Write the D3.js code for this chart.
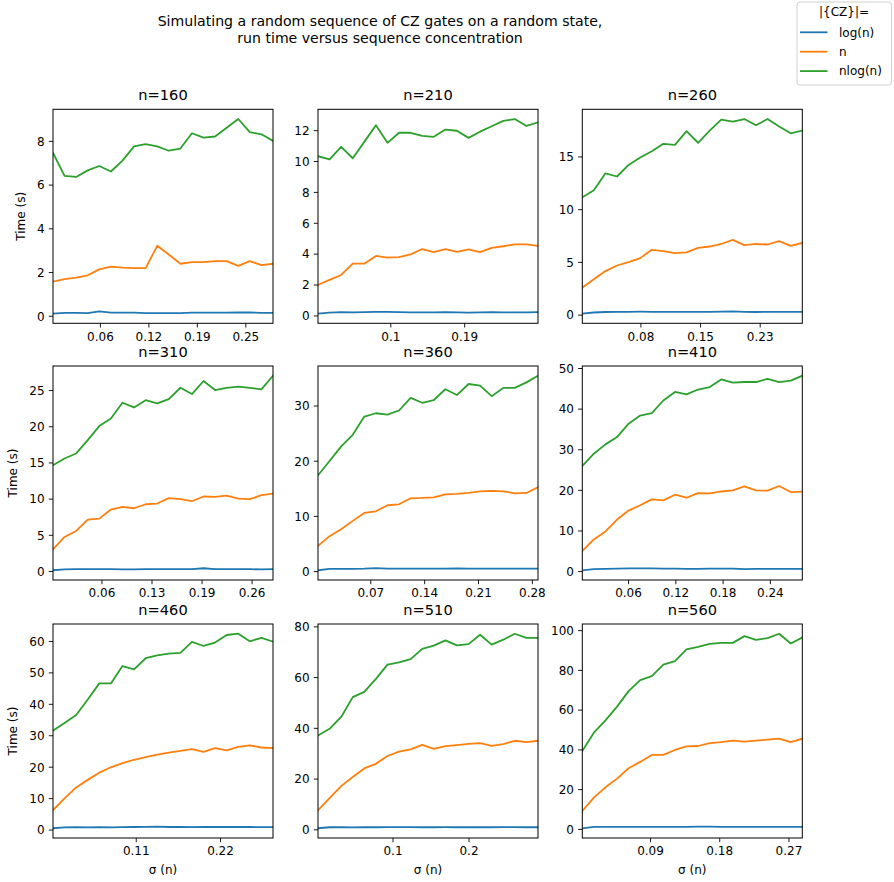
<!DOCTYPE html>
<html>
<head>
<meta charset="utf-8">
<script src="https://cdn.jsdelivr.net/npm/d3@7"></script>
<style>
  html, body { margin: 0; padding: 0; background: #fff; }
  svg { display: block; }
  text { font-family: "DejaVu Sans", sans-serif; fill: #000; }
</style>
</head>
<body>
<div id="chart"></div>
<script>
// ---------------- data ----------------
const panelN = [160, 210, 260, 310, 360, 410, 460, 510, 560];

// sequence concentration sigma (x), shared grid of 20 points
const sigma = [0.002, 0.0169, 0.0319, 0.0468, 0.0617, 0.0767, 0.0916, 0.1065, 0.1215, 0.1364,
               0.1513, 0.1663, 0.1812, 0.1961, 0.2110, 0.2260, 0.2409, 0.2558, 0.2708, 0.2857];

const seriesNames = ["log(n)", "n", "nlog(n)"];
const seriesColors = ["#1f77b4", "#ff7f0e", "#2ca02c"];

// run times (s) for |{CZ}| = log(n)
const timeLog = [
  [0.10,0.13,0.13,0.12,0.20,0.14,0.14,0.14,0.12,0.12,0.12,0.12,0.14,0.14,0.14,0.14,0.15,0.15,0.13,0.13],
  [0.12,0.18,0.21,0.20,0.22,0.23,0.23,0.21,0.20,0.20,0.20,0.21,0.20,0.18,0.20,0.21,0.20,0.20,0.20,0.21],
  [0.10,0.20,0.25,0.27,0.27,0.28,0.27,0.27,0.27,0.26,0.26,0.26,0.28,0.30,0.27,0.25,0.26,0.26,0.27,0.27],
  [0.10,0.22,0.25,0.25,0.25,0.25,0.22,0.23,0.25,0.25,0.25,0.25,0.25,0.38,0.25,0.25,0.25,0.25,0.22,0.27],
  [0.15,0.40,0.40,0.40,0.45,0.55,0.45,0.45,0.45,0.45,0.45,0.45,0.50,0.45,0.45,0.45,0.45,0.45,0.45,0.45],
  [0.20,0.50,0.55,0.60,0.65,0.65,0.65,0.60,0.60,0.55,0.55,0.60,0.60,0.60,0.50,0.55,0.55,0.55,0.55,0.55],
  [0.40,0.70,0.75,0.70,0.75,0.70,0.75,0.80,0.85,0.95,0.80,0.80,0.75,0.80,0.80,0.80,0.80,0.80,0.75,0.75],
  [0.40,0.80,0.80,0.75,0.80,0.80,0.85,0.85,0.85,0.80,0.80,0.85,0.80,0.80,0.80,0.80,0.85,0.85,0.80,0.80],
  [0.30,1.00,1.00,1.00,1.00,1.00,1.00,1.00,1.00,1.00,1.10,1.10,1.00,1.00,1.00,1.00,1.00,1.00,1.00,1.00]
];
// run times (s) for |{CZ}| = n
const timeN = [
  [1.56,1.68,1.74,1.85,2.12,2.25,2.20,2.18,2.18,3.20,2.80,2.38,2.45,2.45,2.50,2.50,2.28,2.50,2.32,2.38],
  [1.98,2.30,2.62,3.35,3.35,3.85,3.75,3.78,3.95,4.30,4.10,4.30,4.12,4.28,4.10,4.38,4.48,4.60,4.60,4.50],
  [2.55,3.35,4.13,4.66,4.98,5.36,6.15,6.02,5.83,5.90,6.33,6.46,6.70,7.09,6.59,6.70,6.65,6.97,6.52,6.80],
  [3.00,4.70,5.53,7.10,7.24,8.49,8.86,8.67,9.22,9.32,10.06,9.92,9.64,10.29,10.24,10.42,10.01,9.92,10.47,10.70],
  [4.58,6.33,7.60,9.10,10.54,10.84,11.93,12.10,13.19,13.25,13.37,13.90,13.98,14.16,14.46,14.52,14.46,14.10,14.16,15.18],
  [4.93,7.80,9.77,12.70,14.90,16.20,17.65,17.40,18.80,18.06,19.20,19.13,19.60,19.87,20.85,19.87,19.79,20.94,19.46,19.54],
  [6.18,9.90,13.40,15.80,18.10,19.80,21.10,22.20,23.00,23.80,24.50,25.05,25.60,24.70,25.90,25.20,26.30,26.80,26.10,25.90],
  [7.50,12.30,17.00,20.60,24.00,25.80,28.90,30.60,31.50,33.30,31.70,32.80,33.20,33.70,34.00,32.90,33.60,34.90,34.40,34.90],
  [9.00,15.70,20.90,25.30,30.50,33.70,37.20,37.20,39.70,41.50,41.70,43.20,43.70,44.40,43.90,44.40,44.90,45.40,43.60,45.40]
];
// run times (s) for |{CZ}| = n log(n)
const timeNLog = [
  [7.45,6.40,6.35,6.65,6.85,6.60,7.10,7.75,7.85,7.75,7.55,7.65,8.35,8.15,8.20,8.60,9.00,8.40,8.30,8.00],
  [10.31,10.10,10.92,10.18,11.24,12.32,11.18,11.83,11.83,11.63,11.57,12.04,11.96,11.50,11.90,12.25,12.60,12.72,12.27,12.50],
  [11.12,11.80,13.40,13.10,14.20,14.90,15.50,16.20,16.10,17.40,16.30,17.45,18.50,18.30,18.55,17.96,18.55,17.85,17.20,17.46],
  [14.62,15.54,16.24,18.08,20.02,21.08,23.25,22.60,23.60,23.15,23.75,25.32,24.45,26.25,25.00,25.30,25.46,25.30,25.10,26.98],
  [17.35,19.94,22.60,24.70,28.00,28.60,28.37,29.10,31.40,30.50,31.00,32.95,31.90,33.90,33.60,31.70,33.20,33.20,34.20,35.40],
  [25.86,28.90,31.20,33.00,36.30,38.30,38.90,42.00,44.10,43.50,44.70,45.30,47.20,46.40,46.55,46.55,47.30,46.55,46.90,48.10],
  [31.45,33.90,36.46,41.36,46.50,46.50,52.00,50.96,54.50,55.40,55.97,56.20,59.70,58.40,59.50,61.90,62.30,59.90,61.00,59.80],
  [36.98,39.60,44.30,52.10,54.20,59.30,64.90,65.80,67.10,71.10,72.40,74.50,72.50,73.00,76.70,72.80,74.75,77.10,75.50,75.50],
  [39.20,48.40,54.60,61.50,69.30,74.90,76.90,82.60,84.40,90.30,91.60,93.10,93.60,93.60,97.00,95.10,96.00,98.20,93.30,96.30]
];

// x ticks: gate-count positions (divided by n gives sigma) and their labels
const xTickCounts = [[10,20,30,40],[20,40],[20,40,60],[20,40,60,80],[25,50,75,100],[25,50,75,100],[50,100],[50,100],[50,100,150]];
const xTickLabels = [
  ["0.06","0.12","0.19","0.25"], ["0.1","0.19"], ["0.08","0.15","0.23"], ["0.06","0.13","0.19","0.26"],
  ["0.07","0.14","0.21","0.28"], ["0.06","0.12","0.18","0.24"], ["0.11","0.22"], ["0.1","0.2"], ["0.09","0.18","0.27"]
];
// y ticks
const yTicks = [
  [0,2,4,6,8], [0,2,4,6,8,10,12], [0,5,10,15], [0,5,10,15,20,25], [0,10,20,30],
  [0,10,20,30,40,50], [0,10,20,30,40,50,60], [0,20,40,60,80], [0,20,40,60,80,100]
];

const suptitleLines = ["Simulating a random sequence of CZ gates on a random state,", "run time versus sequence concentration"];
const legendTitle = "|{CZ}|=";
const yLabelText = "Time (s)";
const xLabelText = "σ (n)";

// ---------------- layout ----------------
const W = 894, H = 882;
const colLeft = [53, 318, 582.3];
const rowTop = [109.3, 366, 624];
const pw = 220, ph = 214;
const tickFont = 12, titleFont = 14.6;

const svg = d3.select("#chart").append("svg").attr("width", W).attr("height", H)
  .style("background", "#fff");

// suptitle
svg.append("g").selectAll("text").data(suptitleLines).join("text")
  .attr("x", 380).attr("y", (d, i) => 25.7 + i * 17.6)
  .attr("text-anchor", "middle").attr("font-size", 14.1).text(d => d);

panelN.forEach((n, p) => {
  const r = Math.floor(p / 3), c = p % 3;
  const left = colLeft[c], top = rowTop[r];
  const g = svg.append("g").attr("transform", `translate(${left},${top})`);

  const series = [timeLog[p], timeN[p], timeNLog[p]];
  const all = series.flat();
  const mn = d3.min(all), mx = d3.max(all), rg = mx - mn;
  const y = d3.scaleLinear().domain([mn - 0.05 * rg, mx + 0.05 * rg]).range([ph, 0]);
  const x = d3.scaleLinear().domain([sigma[0], sigma[sigma.length - 1]]).range([0, pw]);

  // clip
  const clipId = "clip" + p;
  g.append("clipPath").attr("id", clipId).append("rect").attr("width", pw).attr("height", ph);

  const line = d3.line().x((d, i) => x(sigma[i])).y(d => y(d));
  const lg = g.append("g").attr("clip-path", `url(#${clipId})`);
  series.forEach((s, k) => {
    lg.append("path").datum(s).attr("d", line)
      .attr("fill", "none").attr("stroke", seriesColors[k])
      .attr("stroke-width", 1.8).attr("stroke-linejoin", "round").attr("stroke-linecap", "square");
  });

  // axes
  const xAxis = d3.axisBottom(x)
    .tickValues(xTickCounts[p].map(v => v / n))
    .tickFormat((d, i) => xTickLabels[p][i])
    .tickSize(4.2).tickPadding(4.5);
  const gx = g.append("g").attr("transform", `translate(0,${ph})`).call(xAxis);
  gx.select(".domain").remove();
  gx.selectAll(".tick line").attr("stroke", "#000").attr("stroke-width", 0.9);
  gx.selectAll(".tick text").attr("font-size", tickFont).attr("font-family", "DejaVu Sans")
    .attr("fill", "#000").attr("dy", "0.72em");

  const yAxis = d3.axisLeft(y).tickValues(yTicks[p]).tickFormat(d3.format("d"))
    .tickSize(4.2).tickPadding(4.2);
  const gy = g.append("g").call(yAxis);
  gy.select(".domain").remove();
  gy.selectAll(".tick line").attr("stroke", "#000").attr("stroke-width", 0.9);
  gy.selectAll(".tick text").attr("font-size", tickFont).attr("font-family", "DejaVu Sans")
    .attr("fill", "#000").attr("dy", "0.36em");

  // frame
  g.append("rect").attr("width", pw).attr("height", ph)
    .attr("fill", "none").attr("stroke", "#000").attr("stroke-width", 1);

  // title
  g.append("text").attr("x", pw / 2).attr("y", -9).attr("text-anchor", "middle")
    .attr("font-size", titleFont).text("n=" + n);

  // y label on first column
  if (c === 0) {
    let maxW = 0;
    gy.selectAll(".tick text").each(function () { maxW = Math.max(maxW, this.getBBox().width); });
    const bx = -maxW - 20.5;
    g.append("text").attr("transform", `translate(${bx},${ph / 2}) rotate(-90)`)
      .attr("text-anchor", "middle").attr("font-size", tickFont).text(yLabelText);
  }
  // x label on bottom row
  if (r === 2) {
    g.append("text").attr("x", pw / 2).attr("y", ph + 35.5).attr("text-anchor", "middle")
      .attr("font-size", tickFont).text(xLabelText);
  }
});

// legend
const lgd = svg.append("g");
lgd.append("rect").attr("x", 797).attr("y", 2).attr("width", 94.5).attr("height", 83)
  .attr("rx", 3).attr("fill", "#fff").attr("stroke", "#d0d0d0").attr("stroke-width", 1);
lgd.append("text").attr("x", 844).attr("y", 15.8).attr("text-anchor", "middle")
  .attr("font-size", tickFont).text(legendTitle);
const items = lgd.selectAll("g.item").data(seriesNames).join("g").attr("class", "item")
  .attr("transform", (d, i) => `translate(0,${32.3 + i * 19.4})`);
items.append("line").attr("x1", 800).attr("x2", 827.5).attr("y1", 0).attr("y2", 0)
  .attr("stroke", (d, i) => seriesColors[i]).attr("stroke-width", 1.8);
items.append("text").attr("x", 839).attr("y", 4.3).attr("font-size", tickFont).text(d => d);
</script>
</body>
</html>
